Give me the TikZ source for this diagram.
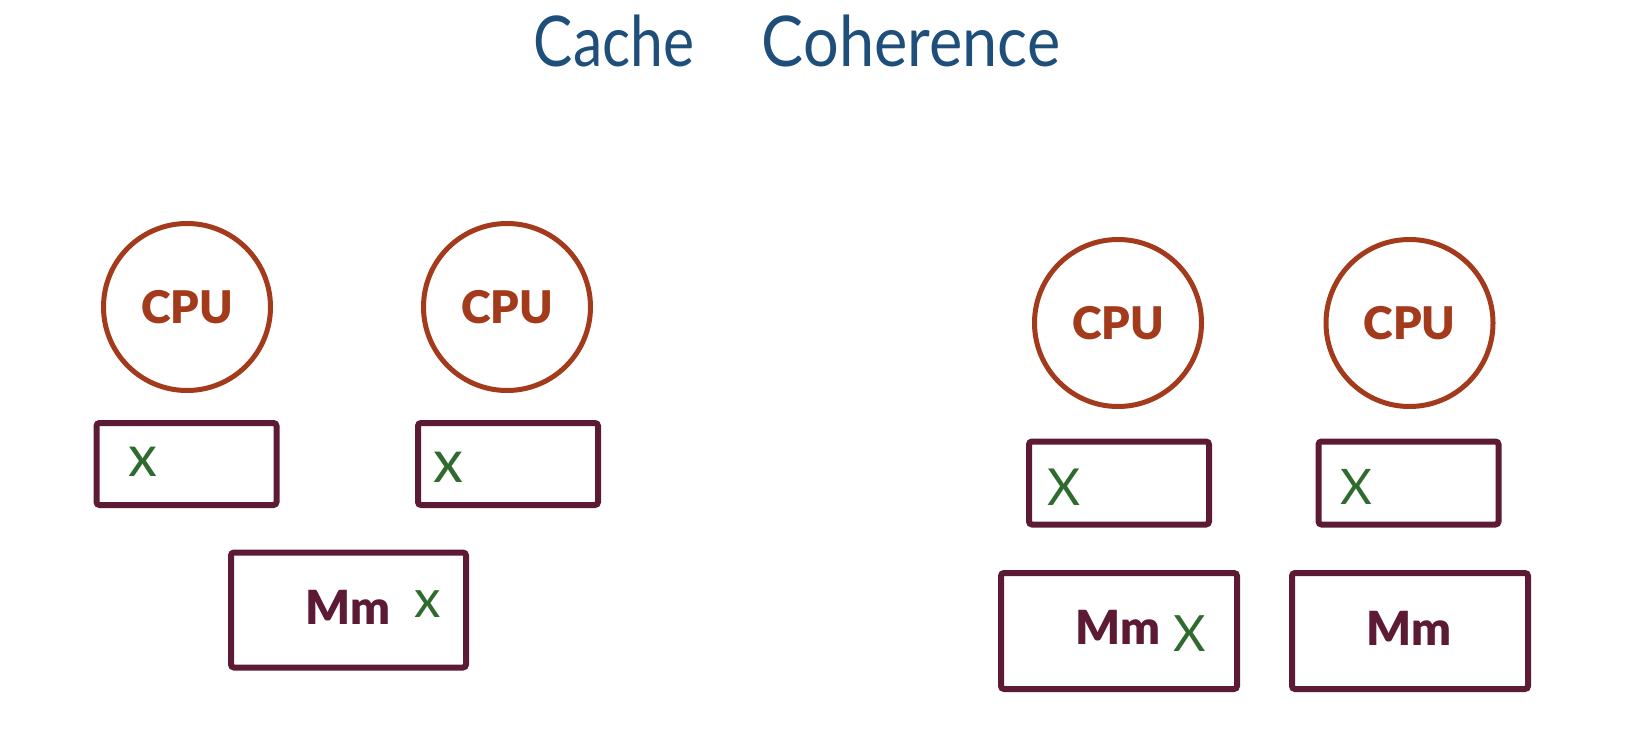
\documentclass[tikz,border=0pt]{standalone}
\usepackage{fontspec}
\setmainfont{Lato}
\newfontfamily\heavyfont{Lato Black}
\definecolor{cpucol}{HTML}{A33A1C}
\definecolor{boxcol}{HTML}{5C1A35}
\definecolor{xcol}{HTML}{2F6B2F}
\definecolor{titlecol}{HTML}{1E4E7A}
\begin{document}
\begin{tikzpicture}[x=1pt,y=-1pt,
  cpu/.style={circle,draw=cpucol,line width=5pt,minimum size=167pt,inner sep=0pt,
    text=cpucol,font=\fontsize{45}{49}\heavyfont},
  cachebox/.style={rectangle,draw=boxcol,line width=6pt,rounded corners=3pt,
    minimum width=180pt,minimum height=82pt,inner sep=0pt},
  membox/.style={rectangle,draw=boxcol,line width=6pt,rounded corners=3pt,
    minimum width=235pt,minimum height=115pt,inner sep=0pt},
  memtext/.style={text=boxcol,inner sep=0pt,font=\fontsize{47}{51}\heavyfont},
  xmark/.style={text=xcol,inner sep=0pt},
  titletext/.style={text=titlecol,inner sep=0pt,font=\fontsize{70}{76}\selectfont}]
\useasboundingbox (0,0) rectangle (1633,746);
% title
\node[titletext] (t1) at (614,41) {\scalebox{0.84}[1]{Cache}};
\node[titletext] (t2) at (911,41) {\scalebox{0.9}[1]{Coherence}};
% left system
\node[cpu] (cpuA) at (187,307) {CPU};
\node[cpu] (cpuB) at (507,307) {CPU};
\node[cachebox] (cacheA) at (186.5,464) {};
\node[cachebox] (cacheB) at (508,464) {};
\node[membox] (memL) at (348.5,610) {};
\node[memtext] (memLt) at (348,607) {Mm};
\node[xmark,font=\fontsize{58}{62}\selectfont] (xA) at (143,462) {x};
\node[xmark,font=\fontsize{60}{64}\selectfont] (xB) at (448,467) {x};
\node[xmark,font=\fontsize{53}{57}\selectfont] (xL) at (428,604) {x};
% right system
\node[cpu] (cpuC) at (1118,323) {CPU};
\node[cpu] (cpuD) at (1409.5,323) {CPU};
\node[cachebox,minimum height=83pt] (cacheC) at (1119,483) {};
\node[cachebox,minimum height=83pt] (cacheD) at (1408.5,483) {};
\node[membox,minimum width=236pt,minimum height=116pt] (memC) at (1119,631) {};
\node[membox,minimum width=236pt,minimum height=116pt] (memD) at (1410,631) {};
\node[memtext] (memCt) at (1118,627) {Mm};
\node[memtext] (memDt) at (1409,628) {Mm};
\node[xmark,font=\fontsize{51}{55}\selectfont] (xC) at (1064,487) {X};
\node[xmark,font=\fontsize{49}{53}\selectfont] (xD) at (1356,487) {X};
\node[xmark,font=\fontsize{50}{54}\selectfont] (xM) at (1190,634) {X};
\end{tikzpicture}
\end{document}
